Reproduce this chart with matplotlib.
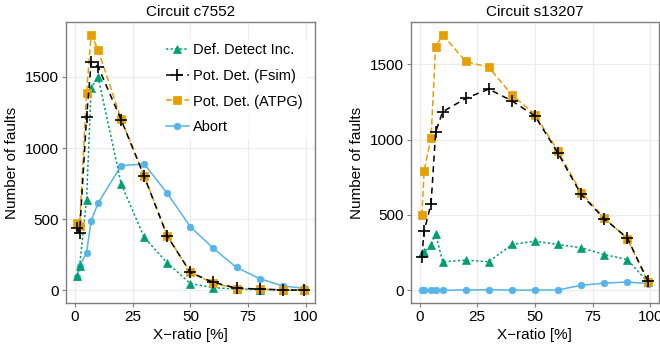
import numpy as np
import matplotlib
matplotlib.use("Agg")
import matplotlib.pyplot as plt

plt.rcParams['font.family'] = ['Liberation Sans', 'DejaVu Sans']

# X-ratio in percent, same for both circuits
x_ratio = [1, 2, 5, 7, 10, 20, 30, 40, 50, 60, 70, 80, 90, 99]

# circuit c7552
c7552_def = [98, 171, 636, 1425, 1500, 748, 371, 192, 47, 18, 8, 5, 2, 0]
c7552_fsim = [437, 406, 1215, 1605, 1572, 1199, 800, 380, 125, 55, 15, 8, 3, 0]
c7552_atpg = [474, 455, 1385, 1797, 1692, 1203, 806, 383, 125, 49, 12, 10, 0, 0]
c7552_abort = [94, 171, 263, 489, 613, 876, 888, 681, 446, 294, 160, 82, 30, 14]

# circuit s13207
s13207_def = [245, 255, 298, 375, 189, 200, 189, 304, 326, 304, 282, 237, 204, 53]
s13207_fsim = [222, 393, 575, 1052, 1185, 1274, 1336, 1258, 1158, 910, 637, 475, 348, 60]
s13207_atpg = [497, 792, 1014, 1617, 1697, 1520, 1480, 1298, 1167, 925, 648, 481, 342, 53]
s13207_abort = [0, 0, 0, 0, 0, 2, 3, 1, 1, 2, 33, 47, 55, 44]

labels = ["Def. Detect Inc.", "Pot. Det. (Fsim)", "Pot. Det. (ATPG)", "Abort"]
colors = ["#009E73", "black", "#E69F00", "#56B4E9"]
markers = ["^", "+", "s", "o"]
msizes = [5.5, 8, 5.5, 4.8]
styles = [(0, (1.5, 1.5)), (0, (4, 3)), (0, (4, 2)), "-"]


def panel(ax, series, title):
    lines = []
    # draw abort first, then green, orange, black on top
    for i in [3, 0, 2, 1]:
        l, = ax.plot(x_ratio, series[i], color=colors[i], linestyle=styles[i],
                     linewidth=1.1, marker=markers[i], markersize=msizes[i],
                     markeredgewidth=1.2 if markers[i] == "+" else 0.5,
                     markeredgecolor=colors[i], label=labels[i])
        lines.append((i, l))
    lines.sort()
    ymax = max(max(s) for s in series)
    ax.set_xlim(-3.9, 103.9)
    ax.set_ylim(-0.05 * ymax, 1.05 * ymax)
    ax.set_xticks([0, 25, 50, 75, 100])
    ax.set_yticks([0, 500, 1000, 1500])
    ax.grid(True, color="#EBEBEB", linewidth=0.8)
    ax.set_axisbelow(True)
    for s in ax.spines.values():
        s.set_color("#7F7F7F")
        s.set_linewidth(1.0)
    ax.tick_params(colors="#7F7F7F", labelcolor="black", labelsize=11,
                   length=3, width=0.8, pad=2)
    ax.set_title(title, fontsize=11, pad=4)
    ax.set_xlabel("X\u2212ratio [%]", fontsize=11, labelpad=3)
    ax.set_ylabel("Number of faults", fontsize=11, labelpad=4)
    return [l for _, l in lines]


fig = plt.figure(figsize=(6.6, 3.54), dpi=100)
ax1 = fig.add_axes([0.1, 0.144, 0.377, 0.794])
ax2 = fig.add_axes([0.622, 0.144, 0.377, 0.794])

handles = panel(ax1, [c7552_def, c7552_fsim, c7552_atpg, c7552_abort], "Circuit c7552")
panel(ax2, [s13207_def, s13207_fsim, s13207_atpg, s13207_abort], "Circuit s13207")

leg = ax1.legend(handles, labels, loc="upper right", bbox_to_anchor=(0.97, 0.94),
                 fontsize=10.5, frameon=True, fancybox=False, handlelength=1.6,
                 handletextpad=0.3, labelspacing=0.8, borderpad=0.3,
                 borderaxespad=0)
leg.get_frame().set_facecolor("white")
leg.get_frame().set_edgecolor("none")

fig.savefig("out.png", dpi=100)
